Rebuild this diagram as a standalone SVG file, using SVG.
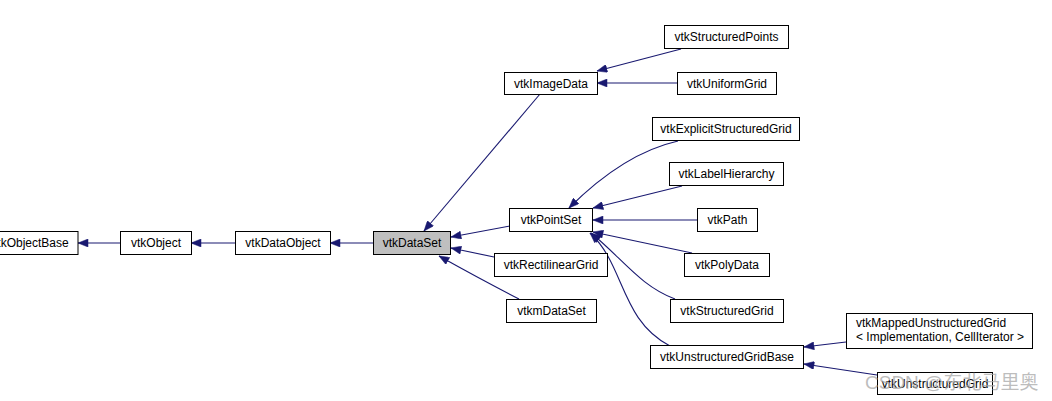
<svg xmlns="http://www.w3.org/2000/svg" width="1052" height="401" viewBox="0 0 1052 401">
<style>
.box{fill:#fff;stroke:#000;stroke-width:1}
.sel{fill:#bfbfbf;stroke:#000;stroke-width:1}
.t{font-family:"Liberation Sans",Arial,sans-serif;font-size:12px;fill:#000;text-anchor:middle}
.tl{font-family:"Liberation Sans",Arial,sans-serif;font-size:12px;fill:#000}
.e{fill:none;stroke:#191970;stroke-width:1.1;marker-end:url(#ah)}
</style>
<defs>
<marker id="ah" viewBox="0 0 10 8" refX="10" refY="4" markerWidth="11" markerHeight="8" markerUnits="userSpaceOnUse" orient="auto">
<path d="M0,0 L10,4 L0,8 z" fill="#191970" stroke="#191970" stroke-width="0.5"/>
</marker>
</defs>
<rect width="1052" height="401" fill="#fff"/>
<g id="edges">
<path class="e" d="M120,243 L78,243"/>
<path class="e" d="M235,243 L191,243"/>
<path class="e" d="M373,243 L330,243"/>
<path class="e" d="M540,94 L424,231"/>
<path class="e" d="M510,226 L451,237"/>
<path class="e" d="M494,257 L451,248"/>
<path class="e" d="M519,299 Q482,280 439,256"/>
<path class="e" d="M681,49 L597,71"/>
<path class="e" d="M677,83 L597,83"/>
<path class="e" d="M678,141 C638,150 602,175 569,208"/>
<path class="e" d="M682,186 L593,208"/>
<path class="e" d="M697,220 L593,220"/>
<path class="e" d="M692,253 L593,232"/>
<path class="e" d="M675,299 C640,286 622,258 591,233"/>
<path class="e" d="M670,346 C620,320 625,265 590,233"/>
<path class="e" d="M846,342 L804,347"/>
<path class="e" d="M877,375 L804,364"/>
</g>
<g id="vtkObjectBase"><rect class="box" x="-18" y="231.5" width="96" height="23"/><text class="t" x="30" y="247">vtkObjectBase</text></g>
<g id="vtkObject"><rect class="box" x="120.5" y="231.5" width="71" height="23"/><text class="t" x="156" y="247">vtkObject</text></g>
<g id="vtkDataObject"><rect class="box" x="235.5" y="231.5" width="95" height="23"/><text class="t" x="283" y="247">vtkDataObject</text></g>
<g id="vtkDataSet"><rect class="sel" x="373.5" y="231.5" width="77" height="23"/><text class="t" x="412" y="247">vtkDataSet</text></g>
<g id="vtkImageData"><rect class="box" x="504.5" y="72.5" width="93" height="22"/><text class="t" x="551" y="88">vtkImageData</text></g>
<g id="vtkStructuredPoints"><rect class="box" x="664.5" y="25.5" width="124" height="23"/><text class="t" x="726.5" y="41">vtkStructuredPoints</text></g>
<g id="vtkUniformGrid"><rect class="box" x="677.5" y="72.5" width="99" height="22"/><text class="t" x="727" y="88">vtkUniformGrid</text></g>
<g id="vtkExplicitStructuredGrid"><rect class="box" x="652.5" y="117.5" width="147" height="23"/><text class="t" x="726" y="133">vtkExplicitStructuredGrid</text></g>
<g id="vtkLabelHierarchy"><rect class="box" x="669.5" y="162.5" width="114" height="23"/><text class="t" x="726.5" y="178">vtkLabelHierarchy</text></g>
<g id="vtkPointSet"><rect class="box" x="509.5" y="208.5" width="83" height="23"/><text class="t" x="551" y="224">vtkPointSet</text></g>
<g id="vtkPath"><rect class="box" x="697.5" y="208.5" width="60" height="23"/><text class="t" x="727.5" y="224">vtkPath</text></g>
<g id="vtkRectilinearGrid"><rect class="box" x="494.5" y="253.5" width="113" height="23"/><text class="t" x="551" y="269">vtkRectilinearGrid</text></g>
<g id="vtkPolyData"><rect class="box" x="684.5" y="253.5" width="85" height="23"/><text class="t" x="727" y="269">vtkPolyData</text></g>
<g id="vtkmDataSet"><rect class="box" x="506.5" y="299.5" width="90" height="23"/><text class="t" x="551.5" y="315">vtkmDataSet</text></g>
<g id="vtkStructuredGrid"><rect class="box" x="670.5" y="299.5" width="113" height="23"/><text class="t" x="727" y="315">vtkStructuredGrid</text></g>
<g id="vtkUnstructuredGridBase"><rect class="box" x="650.5" y="345.5" width="153" height="23"/><text class="t" x="727" y="361">vtkUnstructuredGridBase</text></g>
<g id="vtkMappedUnstructuredGrid"><rect class="box" x="846.5" y="313.5" width="186" height="35"/><text class="tl" x="856" y="327">vtkMappedUnstructuredGrid</text><text class="tl" x="856" y="341">&lt; Implementation, CellIterator &gt;</text></g>
<g id="vtkUnstructuredGrid"><rect class="box" x="877.5" y="372.5" width="115" height="22"/><text class="t" x="935" y="388">vtkUnstructuredGrid</text></g>
<text x="865" y="389" font-family="'Liberation Sans','Noto Sans CJK SC',sans-serif" font-size="19" fill="#a8a8a8" fill-opacity="0.75">CSDN @东北马里奥</text>
</svg>
